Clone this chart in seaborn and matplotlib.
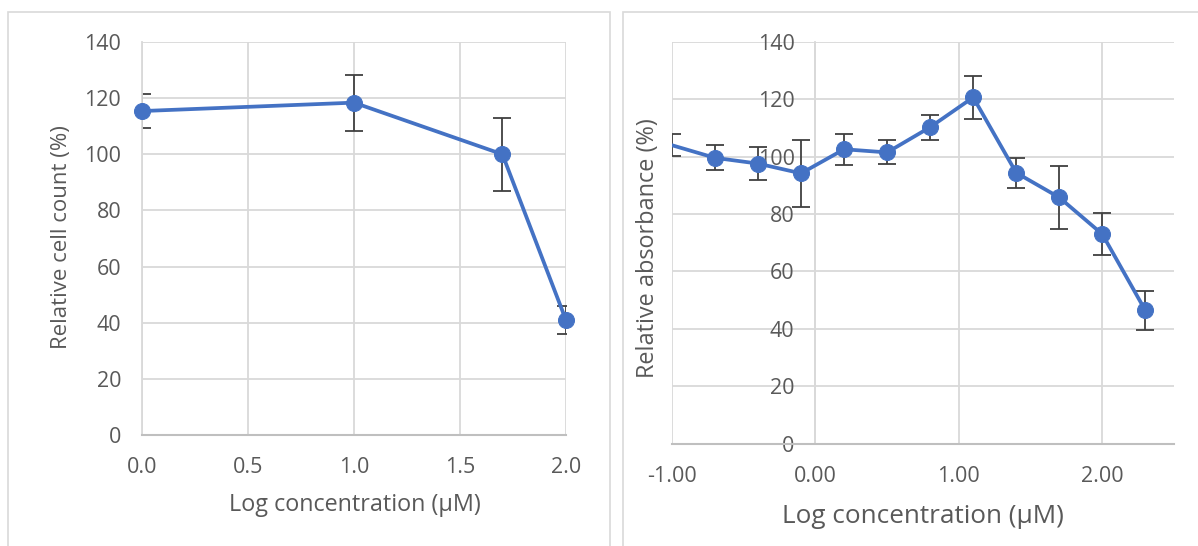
import matplotlib
matplotlib.use("Agg")
import matplotlib.pyplot as plt
import seaborn as sns
import pandas as pd
from matplotlib.patches import Rectangle

# ---- data ----
cell_x = [0.0, 1.0, 1.7, 2.0]
cell_y = [115.4, 118.4, 100.0, 40.9]
cell_err = [6.0, 10.0, 13.0, 5.0]

abs_x = [-1.0, -0.7, -0.4, -0.1, 0.2, 0.5, 0.8, 1.1, 1.4, 1.7, 2.0, 2.3]
abs_y = [104.0, 99.6, 97.6, 94.2, 102.6, 101.5, 110.3, 120.7, 94.4, 85.8, 73.0, 46.4]
abs_err = [3.9, 4.4, 5.8, 11.8, 5.4, 4.2, 4.3, 7.4, 5.3, 10.9, 7.2, 6.8]

left_xticks = [0.0, 0.5, 1.0, 1.5, 2.0]
left_xticklabels = ["0.0", "0.5", "1.0", "1.5", "2.0"]
right_xticks = [-1.0, 0.0, 1.0, 2.0]
right_xticklabels = ["-1.00", "0.00", "1.00", "2.00"]
yticks = [0, 20, 40, 60, 80, 100, 120, 140]

left_ylabel = "Relative cell count (%)"
right_ylabel = "Relative absorbance (%)"
xlabel = "Log concentration (μM)"

# ---- style ----
sns.set_theme(style="white")
plt.rcParams["font.family"] = ["Open Sans", "DejaVu Sans"]

BLUE = "#4472C4"
GRID = "#D9D9D9"
AXIS = "#BFBFBF"
TEXT = "#595959"
ERR = "#404040"

W, H = 1198, 546
fig = plt.figure(figsize=(W / 100, H / 100), dpi=100)
fig.patch.set_facecolor("white")

# panel frames
fig.patches.append(Rectangle((8 / W, -0.1), (610 - 8) / W, (546 - 12) / H + 0.1,
                             transform=fig.transFigure, fill=False,
                             edgecolor="#D9D9D9", lw=1.2, zorder=0))
fig.patches.append(Rectangle((623 / W, -0.1), 0.6, (546 - 12) / H + 0.1,
                             transform=fig.transFigure, fill=False,
                             edgecolor="#D9D9D9", lw=1.2, zorder=0))


def px_axes(x0, y0, x1, y1):
    return fig.add_axes([x0 / W, (H - y1) / H, (x1 - x0) / W, (y1 - y0) / H])


def style_axes(ax, xticks, xticklabels, xlim):
    ax.set_xlim(*xlim)
    ax.set_ylim(0, 140)
    ax.set_xticks(xticks)
    ax.set_xticklabels(xticklabels)
    ax.set_yticks(yticks)
    ax.set_yticklabels([str(v) for v in yticks])
    ax.grid(True, color=GRID, lw=1.3, zorder=0)
    ax.set_axisbelow(True)
    for s in ["top", "right"]:
        ax.spines[s].set_visible(False)
    ax.spines["bottom"].set_color(AXIS)
    ax.spines["bottom"].set_linewidth(1.5)
    ax.spines["left"].set_color(GRID)
    ax.spines["left"].set_linewidth(1.3)
    ax.tick_params(axis="both", length=0, labelsize=15.5, colors=TEXT)
    ax.tick_params(axis="y", pad=15)
    ax.tick_params(axis="x", pad=16)
    ax.set_facecolor("none")


def draw_series(ax, xs, ys, errs, markevery=None, mclip=False):
    df = pd.DataFrame({"x": xs, "y": ys})
    ax.errorbar(xs, ys, yerr=errs, fmt="none", ecolor=ERR, elinewidth=1.3,
                capsize=6.5, capthick=1.3, zorder=2)
    sns.lineplot(data=df, x="x", y="y", ax=ax, color=BLUE, lw=2.7,
                 marker="o", markersize=11.5, markeredgecolor=BLUE,
                 markerfacecolor=BLUE, markevery=markevery, zorder=3,
                 clip_on=mclip, sort=False, estimator=None)


# ---- left chart ----
ax1 = px_axes(142, 42, 566, 435)
style_axes(ax1, left_xticks, left_xticklabels, (0, 2))
draw_series(ax1, cell_x, cell_y, cell_err, mclip=False)
ax1.set_xlabel(xlabel, fontsize=16.8, color=TEXT)
ax1.set_ylabel(left_ylabel, fontsize=16, color=TEXT)
ax1.xaxis.label.set_va("center")
ax1.yaxis.label.set_va("center")
ax1.xaxis.set_label_coords(0.502, -0.178)
ax1.yaxis.set_label_coords(-0.19, 0.5025)

# ---- right chart ----
ax2 = px_axes(672, 42, 1174, 443.5)
style_axes(ax2, right_xticks, right_xticklabels, (-1, 2.5))
ax2.spines["left"].set_position(("data", 0))
draw_series(ax2, abs_x, abs_y, abs_err,
            markevery=list(range(1, len(abs_x))), mclip=True)
ax2.set_xlabel(xlabel, fontsize=18.8, color=TEXT)
ax2.set_ylabel(right_ylabel, fontsize=16.9, color=TEXT)
ax2.xaxis.label.set_va("center")
ax2.yaxis.label.set_va("center")
ax2.xaxis.set_label_coords(0.5, -0.1806)
ax2.yaxis.set_label_coords(-0.0484, 0.487)
for a in (ax1, ax2):
    leg = a.get_legend()
    if leg:
        leg.remove()

fig.savefig("out.png", dpi=100, facecolor="white")
